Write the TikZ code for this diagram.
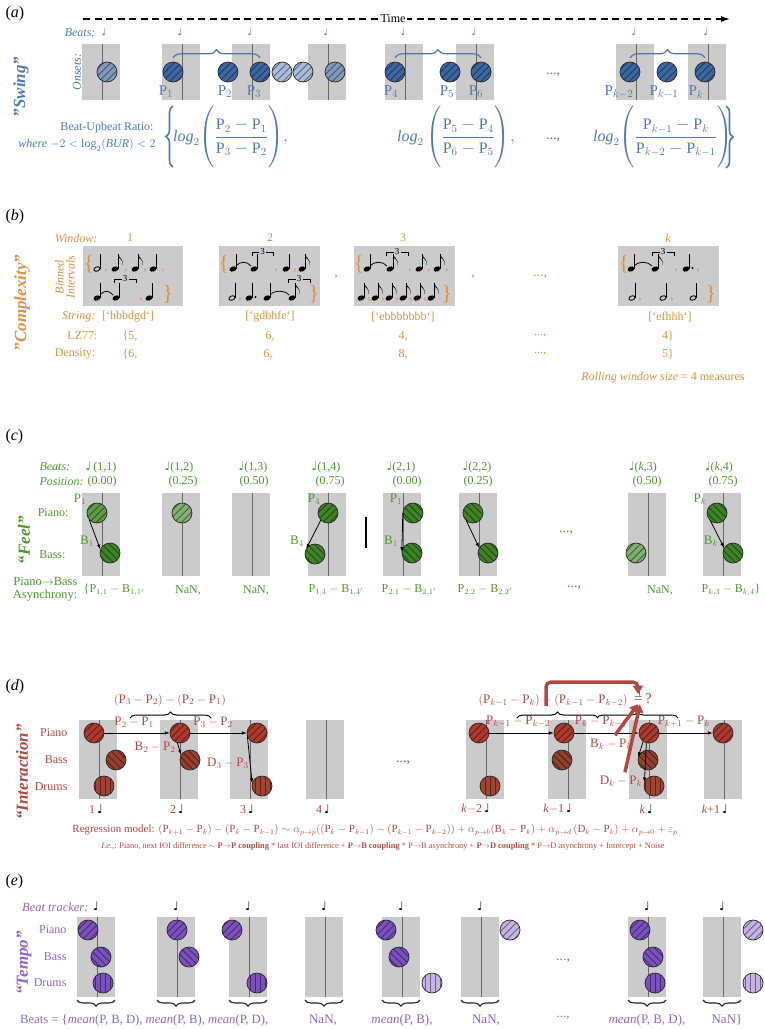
\documentclass[tikz,border=0pt]{standalone}
\usepackage{amsmath}
\usepackage{graphicx}
\usepackage{fontspec}
\setmainfont{Liberation Serif}
\newfontfamily\symf{DejaVu Sans}
\usetikzlibrary{arrows.meta,decorations.pathreplacing,patterns.meta,calc}
\definecolor{ablue}{HTML}{4E7AB2}
\definecolor{bdark}{HTML}{3D67A0}
\definecolor{blight}{HTML}{A9BDD9}
\definecolor{bmid}{HTML}{8299BC}
\definecolor{aorange}{HTML}{E0913F}
\definecolor{agreen}{HTML}{4A9A2C}
\definecolor{gdark}{HTML}{3C8424}
\definecolor{gmid}{HTML}{5E9C48}
\definecolor{glight}{HTML}{82B06E}
\definecolor{ared}{HTML}{B04A40}
\definecolor{rpiano}{HTML}{B0392E}
\definecolor{rbass}{HTML}{94402F}
\definecolor{rdrum}{HTML}{A2432F}
\definecolor{apurple}{HTML}{9063D2}
\definecolor{pdark}{HTML}{7C50C0}
\definecolor{plight}{HTML}{C6B3E6}
\definecolor{wingray}{HTML}{CBCBCB}
\newcommand{\qnote}{{\symf ♩}}
\newcommand{\Pm}[1]{\mathrm{P}_{#1}}
\newcommand{\Bm}[1]{\mathrm{B}_{#1}}
\newcommand{\Dm}[1]{\mathrm{D}_{#1}}
\newcommand{\fs}[1]{\fontsize{#1}{#1}\selectfont}
\newcommand{\trip}[3]{%
  \draw[line width=0.6pt] (#1,#3+4) -- (#1,#3) -- ({(#1+#2)/2-3.5},#3);
  \draw[line width=0.6pt] ({(#1+#2)/2+3.5},#3) -- (#2,#3) -- (#2,#3+4);
  \node[inner sep=0pt, font=\fs{9}] at ({(#1+#2)/2},#3) {3};}
\newcommand{\tienote}[3]{\draw[line width=0.8pt] (#1,#3) .. controls ({#1+4},{#3-5}) and ({#2-4},{#3-5}) .. (#2,#3);}
\newcommand{\winbox}[3]{\path[win] (#1-20,#2) rectangle (#1+18,#3); \draw[bline] (#1,#2) -- (#1,#3);}
\tikzset{
  win/.style={fill=wingray, draw=none},
  bline/.style={draw=black!60, line width=0.7pt},
  onset/.style n args={2}{circle, minimum size=20pt, inner sep=0pt, fill=#1,
     postaction={pattern={Lines[angle=#2,distance=5pt,line width=0.9pt]}, pattern color=#1!55!black},
     postaction={draw=black!85, line width=0.7pt}},
  title/.style={rotate=90, font=\fs{17}\bfseries\itshape},
  plab/.style={font=\fs{15}},
  obr/.style={text=aorange, font=\fs{22}, inner sep=0pt},
  ocm/.style={text=aorange, font=\fs{13}, inner sep=0pt},
  carrow/.style={draw=black, line width=0.8pt, -{Latex[length=5pt,width=3.5pt]}},
  bigarrow/.style={draw=ared, line width=3.5pt, -{Triangle[length=8pt,width=10pt]}},
  ebrace/.style={draw=black!85, line width=1.1pt, decorate, decoration={brace, amplitude=6pt, mirror}},
  qn/.pic={\fill[rotate=20] (0,0) ellipse (3.6pt and 2.5pt); \draw[line width=0.7pt] (3.1,-0.5) -- (3.1,-15);},
  hn/.pic={\draw[line width=0.9pt, rotate=20] (0,0) ellipse (3.2pt and 2.1pt); \draw[line width=0.7pt] (3.1,-0.5) -- (3.1,-15);},
  en/.pic={\fill[rotate=20] (0,0) ellipse (3.6pt and 2.5pt); \draw[line width=0.7pt] (3.1,-0.5) -- (3.1,-15);
     \fill (3.1,-15.3) .. controls (3.6,-11) and (9,-10) .. (7.5,-4) .. controls (8,-9) and (5,-10.5) .. (3.1,-12) -- cycle;},
}
\begin{document}
\begin{tikzpicture}[x=1pt,y=-1pt,font=\fs{12}]
\useasboundingbox (0,0) rectangle (765,1029);
\fill[white] (0,0) rectangle (765,1029);

%%%%%%%%%%%%%%%% (a) %%%%%%%%%%%%%%%%
\node[anchor=west, font=\fs{16}] (la) at (2,14) {(\textit{a})};
\coordinate (t0) at (83,19); \coordinate (t1) at (730,19);
\draw[line width=1.3pt, dash pattern=on 7pt off 4.5pt, -{Latex[length=9pt,width=6pt]}] (t0) -- (t1);
\node[fill=white, inner sep=1.5pt, font=\fs{12}] (time) at (393,19) {Time};
\foreach \x in {102,182,252,328,405,476,636,708}{\winbox{\x}{44}{100}}
\node[anchor=east, text=ablue, font=\fs{12}\itshape] (abeats) at (99,33) {Beats:};
\node[text=ablue, font=\fs{10}] (an0) at (104,32) {\qnote};
\foreach \x [count=\i] in {182,252,328,405,476,636,708}{\node[text=ablue, font=\fs{10}] (an\i) at (\x-2,32) {\qnote};}
\node[rotate=90, text=ablue, font=\fs{12}\itshape] (aons) at (77,72) {Onsets:};
\node[title, text=ablue] (aswing) at (21,87) {"Swing"};
\node[onset={bmid}{45}] (a0) at (107,72) {};
\node[onset={bdark}{45}] (a1) at (173,72) {};
\node[onset={bdark}{45}] (a2) at (228,72) {};
\node[onset={bdark}{45}] (a3) at (260,72) {};
\node[onset={blight}{45}] (a3b) at (282,72) {};
\node[onset={blight}{45}] (a3c) at (303,72) {};
\node[onset={bmid}{45}] (a3d) at (335,72) {};
\node[onset={bdark}{45}] (a4) at (395,72) {};
\node[onset={bdark}{45}] (a5) at (450,72) {};
\node[onset={bdark}{45}] (a6) at (481,72) {};
\node[onset={bdark}{45}] (ak2) at (630,72) {};
\node[onset={bdark}{45}] (ak1) at (667,72) {};
\node[onset={bdark}{45}] (ak) at (705,72) {};
\node[plab, text=ablue, inner sep=0pt] (lp1) at (166,92) {$\Pm{1}$};
\node[plab, text=ablue, inner sep=0pt] (lp2) at (225,92) {$\Pm{2}$};
\node[plab, text=ablue, inner sep=0pt] (lp3) at (254,92) {$\Pm{3}$};
\node[plab, text=ablue, inner sep=0pt] (lp4) at (391,92) {$\Pm{4}$};
\node[plab, text=ablue, inner sep=0pt] (lp5) at (447,92) {$\Pm{5}$};
\node[plab, text=ablue, inner sep=0pt] (lp6) at (476,92) {$\Pm{6}$};
\node[plab, text=ablue, inner sep=0pt] (lpk2) at (619,92) {$\Pm{k-2}$};
\node[plab, text=ablue, inner sep=0pt] (lpk1) at (664,92) {$\Pm{k-1}$};
\node[plab, text=ablue, inner sep=0pt] (lpk) at (696,92) {$\Pm{k}$};
\node[text=ablue, font=\fs{14}] (adots1) at (553,75) {...,};
\draw[ablue, line width=1.2pt, decorate, decoration={brace, amplitude=8pt}] ([yshift=4pt]a1.north) -- ([yshift=4pt]a3.north);
\draw[ablue, line width=1.2pt, decorate, decoration={brace, amplitude=8pt}] ([yshift=4pt]a4.north) -- ([yshift=4pt]a6.north);
\draw[ablue, line width=1.2pt, decorate, decoration={brace, amplitude=8pt}] ([yshift=4pt]ak2.north) -- ([yshift=4pt]ak.north);
\node[anchor=east, text=ablue, font=\fs{12}] (bur) at (157,128) {Beat-Upbeat Ratio:};
\node[anchor=east, text=ablue, font=\fs{12}\itshape] (bur2) at (159,145) {where $-2<\log_2(\mathit{BUR})<2$};
\draw[ablue, line width=1.6pt, decorate, decoration={brace, amplitude=7pt}] (173,167) -- (173,106);
\draw[ablue, line width=1.6pt, decorate, decoration={brace, amplitude=7pt}] (726,106) -- (726,168);
\node[anchor=west, text=ablue, font=\fs{16}, inner sep=0pt] (f1) at (173,137) {$\mathit{log}_2\!\left(\rule[-25pt]{0pt}{56pt}\dfrac{\Pm{2}-\Pm{1}}{\Pm{3}-\Pm{2}}\right)\!,$};
\node[anchor=west, text=ablue, font=\fs{16}, inner sep=0pt] (f2) at (397,137) {$\mathit{log}_2\left(\rule[-25pt]{0pt}{56pt}\dfrac{\Pm{5}-\Pm{4}}{\Pm{6}-\Pm{5}}\right)\!,$};
\node[text=ablue, font=\fs{14}] (adots2) at (553,140) {...,};
\node[anchor=west, text=ablue, font=\fs{16}, inner sep=0pt] (f3) at (593,137) {$\mathit{log}_2\!\left(\rule[-25pt]{0pt}{56pt}\dfrac{\Pm{k-1}-\Pm{k}}{\Pm{k-2}-\Pm{k-1}}\right)$};

%%%%%%%%%%%%%%%% (b) %%%%%%%%%%%%%%%%
\node[anchor=west, font=\fs{16}] (lb) at (2,217) {(\textit{b})};
\node[title, text=aorange] (bcomp) at (22,303) {"Complexity"};
\node[anchor=east, text=aorange, font=\fs{12}\itshape] (bwin) at (101,238) {Window:};
\node[text=aorange] (bw1) at (130,238) {1};
\node[text=aorange] (bw2) at (270,238) {2};
\node[text=aorange] (bw3) at (403,238) {3};
\node[text=aorange] (bwk) at (668,238) {\textit{k}};
\node[rotate=90, align=center, text=aorange, font=\fs{12}\itshape, inner sep=0pt] (bbin) at (65,277) {Binned\\[-1pt]Intervals};
\fill[wingray] (83,246) rectangle (183,306);
\fill[wingray] (219,246) rectangle (320,306);
\fill[wingray] (354,246) rectangle (455,306);
\fill[wingray] (618,246) rectangle (719,306);
% box 1
\node[obr] (b1l) at (89,264) {\{};
\pic at (97,269) {hn}; \node[ocm] at (106,271) {,};
\pic at (115,269) {en}; \node[ocm] at (126,271) {,};
\pic at (135,269) {en}; \node[ocm] at (145,271) {,};
\pic at (153,269) {qn}; \node[ocm] at (163,271) {,};
\pic at (97,298) {qn}; \tienote{100}{113}{295}; \pic at (116,298) {qn}; \trip{114}{136}{279};
\node[ocm] at (141,300) {,}; \pic at (149,298) {qn};
\node[obr] (b1r) at (168,294) {\}};
% box 2
\node[obr] (b2l) at (224,264) {\{};
\pic at (233,269) {qn}; \tienote{236}{251}{266}; \pic at (254,269) {qn}; \trip{252}{273}{252};
\node[ocm] at (276,271) {,}; \pic at (286,269) {qn}; \node[ocm] at (295,271) {,}; \pic at (302,269) {en};
\pic at (232,298) {hn}; \node[ocm] at (240,300) {,};
\pic at (249,298) {qn}; \fill (255.5,297) circle (1.1pt);
\pic at (267,298) {qn}; \tienote{270}{289}{295}; \pic at (292,298) {en}; \trip{288}{310}{279};
\node[obr] (b2r) at (314,294) {\}};
\node[ocm, font=\fs{14}] (bc1) at (336,277) {,};
% box 3
\node[obr] (b3l) at (359,264) {\{};
\pic at (367,269) {qn}; \tienote{370}{387}{266}; \pic at (390,269) {en}; \trip{386}{408}{252};
\node[ocm] at (410,271) {,}; \pic at (419,269) {en}; \node[ocm] at (429,271) {,};
\pic at (437,269) {en}; \node[ocm] at (447,271) {,};
\foreach \x in {361,375,389,403,417,431}{\pic at (\x,298) {en};}
\foreach \x in {369,383,397,411,425}{\node[ocm] at (\x,300) {,};}
\node[obr] (b3r) at (447,294) {\}};
\node[ocm, font=\fs{14}] (bc2) at (473,277) {,};
\node[text=aorange, font=\fs{14}] (bdots) at (540,277) {...,};
% box k
\node[obr] (bkl) at (624,264) {\{};
\pic at (631,269) {qn}; \tienote{634}{652}{266}; \pic at (655,269) {en}; \trip{652}{674}{252};
\node[ocm] at (676,271) {,}; \pic at (686,269) {qn}; \fill (692.5,268) circle (1.1pt); \node[ocm] at (698,271) {,};
\pic at (632,298) {hn}; \node[ocm] at (640,300) {,};
\pic at (663,298) {hn}; \node[ocm] at (672,300) {,};
\pic at (693,298) {hn};
\node[obr] (bkr) at (711,294) {\}};
% rows
\node[anchor=east, text=aorange, font=\fs{12}\itshape] (bstr) at (99,317) {String:};
\node[text=aorange] (bs1) at (128,317) {[`hbbdgd`]};
\node[text=aorange] (bs2) at (270,317) {[`gdbhfe`]};
\node[text=aorange] (bs3) at (403,317) {[`ebbbbbbb`]};
\node[text=aorange] (bsk) at (670,317) {[`efhhh`]};
\node[anchor=east, text=aorange] (blz) at (101,336) {LZ77:};
\node[text=aorange] (bl1) at (130,336) {\{5,};
\node[text=aorange] (bl2) at (270,336) {6,};
\node[text=aorange] (bl3) at (403,336) {4,};
\node[text=aorange] (bl4) at (540,336) {...,};
\node[text=aorange] (blk) at (668,336) {4\}};
\node[anchor=east, text=aorange] (bden) at (99,354) {Density:};
\node[text=aorange] (bd1) at (130,354) {\{6,};
\node[text=aorange] (bd2) at (268,354) {6,};
\node[text=aorange] (bd3) at (403,354) {8,};
\node[text=aorange] (bd4) at (540,354) {...,};
\node[text=aorange] (bdk) at (668,354) {5\}};
\node[text=aorange] (broll) at (663,378) {\textit{Rolling window size} = 4 measures};

%%%%%%%%%%%%%%%% (c) %%%%%%%%%%%%%%%%
\node[anchor=west, font=\fs{16}] (lc) at (2,437) {(\textit{c})};
\node[title, text=agreen] (cfeel) at (24,540) {“Feel”};
\node[anchor=west, text=agreen, font=\fs{12}\itshape] (cbeats) at (36,467) {Beats:};
\node[anchor=west, text=agreen, font=\fs{12}\itshape] (cpos) at (36,482) {Position:};
\foreach \x/\t [count=\i] in {101/{\qnote\,(1,1)},179/{\qnote(1,2)},253/{\qnote(1,3)},326/{\qnote(1,4)},401/{\qnote(2,1)},477/{\qnote(2,2)},643/{\qnote(\textit{k},3)},719/{\qnote(\textit{k},4)}}{\node[text=agreen] (cb\i) at (\x,467) {\t};}
\foreach \x/\t [count=\i] in {102/0.00,183/0.25,254/0.50,330/0.75,407/0.00,478/0.25,647/0.50,723/0.75}{\node[text=agreen] (cq\i) at (\x,482) {(\t)};}
\foreach \x in {102,182,252,328,403,479,648,723}{\winbox{\x}{493}{576}}
\node[anchor=east, text=agreen] (cpiano) at (72,513) {Piano:};
\node[anchor=east, text=agreen] (cbass) at (69,555) {Bass:};
\node[onset={gmid}{45}] (c1p) at (97,513) {};
\node[onset={gdark}{-45}] (c1b) at (110,553) {};
\node[onset={glight}{45}] (c2p) at (182,513) {};
\node[onset={gdark}{45}] (c4p) at (328,513) {};
\node[onset={gdark}{-45}] (c4b) at (315,554) {};
\node[onset={gdark}{-45}] (c5p) at (413,513) {};
\node[onset={gdark}{-45}] (c5b) at (412,553) {};
\node[onset={gdark}{-45}] (c6p) at (473,513) {};
\node[onset={gdark}{-45}] (c6b) at (488,553) {};
\node[onset={glight}{45}] (c7b) at (636,553) {};
\node[onset={gdark}{-45}] (c8p) at (717,513) {};
\node[onset={gdark}{-45}] (c8b) at (733,553) {};
\draw[carrow] (c1p.220) -- (c1b.160);
\draw[carrow] (c4p.225) -- (c4b.150);
\draw[carrow] (c5p.180) -- (c5b.175);
\draw[carrow] (c6p.230) -- (c6b.150);
\draw[carrow] (c8p.230) -- (c8b.150);
\node[text=agreen, font=\fs{13}] (cl1p) at (80,499) {$\Pm{1}$};
\node[text=agreen, font=\fs{13}] (cl1b) at (87,541) {$\Bm{1}$};
\node[text=agreen, font=\fs{13}] (cl4p) at (314,499) {$\Pm{4}$};
\node[text=agreen, font=\fs{13}] (cl4b) at (297,541) {$\Bm{4}$};
\node[text=agreen, font=\fs{13}] (cl5p) at (396,499) {$\Pm{1}$};
\node[text=agreen, font=\fs{13}] (cl5b) at (391,541) {$\Bm{1}$};
\node[text=agreen, font=\fs{13}] (cl8p) at (700,499) {$\Pm{k}$};
\node[text=agreen, font=\fs{13}] (cl8b) at (711,541) {$\Bm{k}$};
\draw[black, line width=2pt] (366,517) -- (366,548);
\node[text=agreen, font=\fs{14}] (cdots) at (566,533) {...,};
\node[anchor=east, text=agreen, align=right, font=\fs{12.5}] (casyn) at (81,589) {Piano$\rightarrow$Bass\\Asynchrony:};
\node[text=agreen] (ca1) at (114,590) {\{$\Pm{1,1}-\Bm{1,1'}$};
\node[text=agreen] (ca2) at (188,590) {NaN,};
\node[text=agreen] (ca3) at (256,590) {NaN,};
\node[text=agreen] (ca4) at (336,590) {$\Pm{1,4}-\Bm{1,4'}$};
\node[text=agreen] (ca5) at (409,590) {$\Pm{2,1}-\Bm{2,1'}$};
\node[text=agreen] (ca6) at (485,590) {$\Pm{2,2}-\Bm{2,2'}$};
\node[text=agreen, font=\fs{14}] (ca7) at (574,588) {...,};
\node[text=agreen] (ca8) at (660,590) {NaN,};
\node[text=agreen] (ca9) at (731,590) {$\Pm{k,3}-\Bm{k,4}$\}};

%%%%%%%%%%%%%%%% (d) %%%%%%%%%%%%%%%%
\node[anchor=west, font=\fs{16}] (ld) at (2,687) {(\textit{d})};
\node[title, text=ared] (dint) at (22,772) {“Interaction”};
\foreach \x in {99,180,250,326,486,568,649,724}{\winbox{\x}{720}{799}}
\node[anchor=east, text=ared] (dpiano) at (71,733) {Piano};
\node[anchor=east, text=ared] (dbass) at (71,760) {Bass};
\node[anchor=east, text=ared] (ddrums) at (71,787) {Drums};
\node[onset={rpiano}{45}] (d1p) at (94,733) {};
\node[onset={rbass}{-45}] (d1b) at (116,760) {};
\node[onset={rdrum}{90}] (d1d) at (104,786) {};
\node[onset={rpiano}{45}] (d2p) at (180,733) {};
\node[onset={rbass}{-45}] (d2b) at (190,760) {};
\node[onset={rpiano}{45}] (d3p) at (257,733) {};
\node[onset={rdrum}{90}] (d3d) at (262,786) {};
\node[onset={rpiano}{45}] (d5p) at (479,733) {};
\node[onset={rdrum}{90}] (d5d) at (490,786) {};
\node[onset={rpiano}{45}] (d6p) at (564,733) {};
\node[onset={rbass}{-45}] (d6b) at (562,760) {};
\node[onset={rpiano}{45}] (d7p) at (649,733) {};
\node[onset={rbass}{-45}] (d7b) at (648,760) {};
\node[onset={rdrum}{90}] (d7d) at (654,786) {};
\node[onset={rpiano}{45}] (d8p) at (723,733) {};
\draw[carrow] (d1p) -- (d2p);
\draw[carrow] (d2p) -- (d3p);
\draw[carrow] (d5p) -- (d6p);
\draw[carrow] (d6p) -- (d7p);
\draw[carrow] (d7p) -- (d8p);
\draw[carrow] (d2p.255) -- (d2b.150);
\draw[carrow] (d3p.200) -- (d3d.165);
\draw[carrow] (d7p.235) -- (d7b.165);
\draw[carrow] (d7p.255) -- (d7d.160);
\node[text=ared, font=\fs{13}] (dl1) at (134,722) {$\Pm{2}-\Pm{1}$};
\node[text=ared, font=\fs{13}] (dl2) at (213,722) {$\Pm{3}-\Pm{2}$};
\node[text=ared, font=\fs{13}] (dl3) at (518,722) {$\Pm{k-1}-\Pm{k-2}$};
\node[text=ared, font=\fs{13}] (dl4) at (601,722) {$\Pm{k}-\Pm{k-1}$};
\node[text=ared, font=\fs{13}] (dl5) at (684,722) {$\Pm{k+1}-\Pm{k}$};
\node[text=ared, font=\fs{13}] (dbp) at (155,747) {$\Bm{2}-\Pm{2}$};
\node[text=ared, font=\fs{13}] (ddp) at (228,763) {$\Dm{3}-\Pm{3}$};
\node[text=ared, font=\fs{13}] (dbk) at (611,744) {$\Bm{k}-\Pm{k}$};
\node[text=ared, font=\fs{13}] (ddk) at (621,781) {$\Dm{k}-\Pm{k}$};
\node[text=ared, font=\fs{13}] (dbr1) at (170,700) {$(\Pm{3}-\Pm{2})-(\Pm{2}-\Pm{1})$};
\node[text=ared, font=\fs{13}] (dbr2) at (553,700) {$(\Pm{k-1}-\Pm{k})-(\Pm{k-1}-\Pm{k-2})$};
\draw[black, line width=1pt, decorate, decoration={brace, amplitude=6pt}] (130,718) -- (211,718);
\draw[black, line width=1pt, decorate, decoration={brace, amplitude=6pt}] (517,718) -- (598,718);
\draw[black, line width=1pt, decorate, decoration={brace, amplitude=6pt}] (597,718) -- (678,718);
\node[text=ared, font=\fs{15}, inner sep=0pt] (deq) at (643,699) {=\,?};
\coordinate (dstart) at (546,706);
\draw[bigarrow, rounded corners=5pt] (dstart) -- (546,682) -- (638,682) -- ([xshift=-5pt]deq.north);
\draw[bigarrow] ([xshift=4pt]dbk.north) -- ([xshift=-5pt]deq.south);
\draw[bigarrow] ([xshift=4pt]ddk.north) -- ([xshift=-3pt]deq.south);
\foreach \x/\t [count=\i] in {99/1,180/2,250/3,326/4,486/{\textit{k}$-$2},568/{\textit{k}$-$1},649/{\textit{k}},724/{\textit{k}+1}}{\node[anchor=east, text=ared, inner sep=0pt] (dn\i) at (\x+4,809) {\t\,{\symf\fs{12}\textcolor{black}{♩}}};}
\node[text=ared, font=\fs{14}] (ddots) at (403,763) {...,};
\node[text=ared, inner sep=0pt] (dreg) at (375,830) {\resizebox{605pt}{!}{Regression model: $(\Pm{k+1}-\Pm{k})-(\Pm{k}-\Pm{k-1})\sim\alpha_{p\rightarrow p}((\Pm{k}-\Pm{k-1})-(\Pm{k-1}-\Pm{k-2}))+\alpha_{p\rightarrow b}(\Bm{k}-\Pm{k})+\alpha_{p\rightarrow d}\,(\Dm{k}-\Pm{k})+\alpha_{p\rightarrow 0}+\varepsilon_p$}};
\node[text=ared, inner sep=0pt] (dreg2) at (383,846) {\resizebox{563pt}{!}{\textit{I.e.,}: Piano, next IOI difference $\sim$ \textbf{P$\rightarrow$P coupling} * last IOI difference + \textbf{P$\rightarrow$B coupling} * P$\rightarrow$B asynchrony + \textbf{P$\rightarrow$D coupling} * P$\rightarrow$D asynchrony + Intercept + Noise}};

%%%%%%%%%%%%%%%% (e) %%%%%%%%%%%%%%%%
\node[anchor=west, font=\fs{16}] (le) at (2,882) {(\textit{e})};
\node[title, text=apurple] (etempo) at (24,963) {“Tempo”};
\node[anchor=east, text=apurple, font=\fs{12.5}\itshape] (etrack) at (92,907) {Beat tracker:};
\foreach \x [count=\i] in {97,177,249,325,402,481,648,723}{\node[font=\fs{12}] (en\i) at (\x-1,906) {\qnote};}
\foreach \x in {97,177,249,325,402,481,648,723}{\winbox{\x}{917}{997}}
\node[anchor=east, text=apurple] (epiano) at (70,930) {Piano};
\node[anchor=east, text=apurple] (ebass) at (70,957) {Bass};
\node[anchor=east, text=apurple] (edrums) at (70,983) {Drums};
\node[onset={pdark}{45}] (e1p) at (88,930) {};
\node[onset={pdark}{-45}] (e1b) at (101,957) {};
\node[onset={pdark}{90}] (e1d) at (103,983) {};
\node[onset={pdark}{45}] (e2p) at (177,930) {};
\node[onset={pdark}{-45}] (e2b) at (189,957) {};
\node[onset={pdark}{45}] (e3p) at (232,930) {};
\node[onset={pdark}{90}] (e3d) at (257,983) {};
\node[onset={pdark}{45}] (e5p) at (386,930) {};
\node[onset={pdark}{-45}] (e5b) at (399,957) {};
\node[onset={plight}{90}] (e5d) at (432,983) {};
\node[onset={plight}{45}] (e6p) at (510,930) {};
\node[onset={pdark}{45}] (e7p) at (640,930) {};
\node[onset={pdark}{-45}] (e7b) at (653,957) {};
\node[onset={pdark}{90}] (e7d) at (655,983) {};
\node[onset={plight}{45}] (e8p) at (753,930) {};
\node[onset={plight}{90}] (e8d) at (753,983) {};
\node[text=apurple, font=\fs{14}] (edots) at (563,961) {...,};
\foreach \x in {97,177,249,325,402,481,648,723}{\draw[ebrace] (\x-20,1000) -- (\x+18,1000);}
\node[anchor=west, text=apurple, inner sep=0pt] (eb1) at (20,1020) {\resizebox{248pt}{!}{Beats = \{\textit{mean}(P, B, D), \textit{mean}(P, B), \textit{mean}(P, D),}};
\node[text=apurple, font=\fs{13}] (eb4) at (323,1020) {NaN,};
\node[text=apurple, font=\fs{13}] (eb5) at (402,1020) {\textit{mean}(P, B),};
\node[text=apurple, font=\fs{13}] (eb6) at (486,1020) {NaN,};
\node[text=apurple, font=\fs{13}] (eb7) at (563,1018) {...,};
\node[text=apurple, font=\fs{13}] (eb8) at (647,1020) {\textit{mean}(P, B, D),};
\node[text=apurple, font=\fs{13}] (eb9) at (727,1020) {NaN\}};
\end{tikzpicture}
\end{document}
